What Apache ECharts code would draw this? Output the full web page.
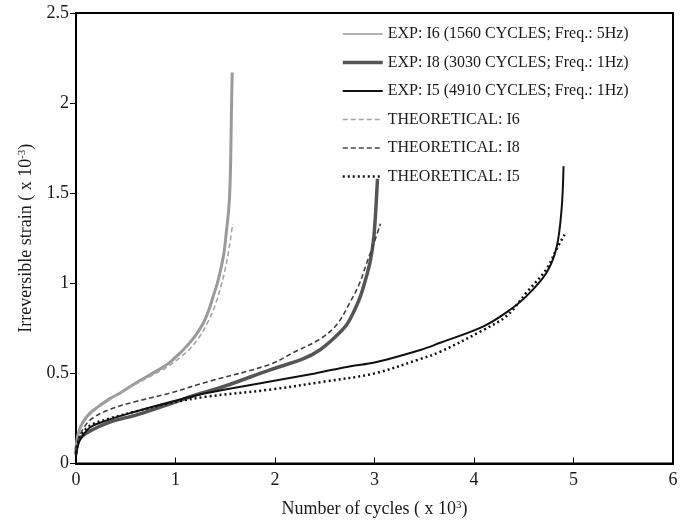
<!DOCTYPE html>
<html>
<head>
<meta charset="utf-8">
<script src="https://cdn.jsdelivr.net/npm/echarts@6/dist/echarts.min.js"></script>
<style>
  html, body { margin: 0; padding: 0; background: #fff; }
  #chart { width: 691px; height: 523px; }
</style>
</head>
<body>
<div id="chart"></div>
<script>
// Irreversible strain (x 10^-3) vs number of cycles (x 10^3), as [cycles, strain] pairs
const expI6 = [[0,0.08],[0.01,0.13],[0.03,0.18],[0.07,0.23],[0.14,0.28],[0.21,0.31],[0.34,0.36],[0.44,0.39],[0.61,0.45],[0.8,0.51],[0.94,0.56],[1.04,0.61],[1.11,0.65],[1.2,0.71],[1.28,0.78],[1.34,0.86],[1.38,0.93],[1.42,1.0],[1.46,1.09],[1.49,1.18],[1.51,1.28],[1.53,1.38],[1.545,1.5],[1.555,1.7],[1.562,1.95],[1.57,2.17]];
const expI8 = [[0,0.05],[0.01,0.1],[0.04,0.14],[0.14,0.18],[0.34,0.23],[0.61,0.27],[0.94,0.33],[1.2,0.38],[1.5,0.43],[1.95,0.52],[2.28,0.58],[2.45,0.63],[2.62,0.71],[2.72,0.77],[2.79,0.84],[2.86,0.93],[2.92,1.04],[2.96,1.13],[2.99,1.24],[3.01,1.38],[3.03,1.58]];
const expI5 = [[0,0.04],[0.01,0.08],[0.04,0.13],[0.14,0.2],[0.34,0.245],[0.61,0.29],[0.94,0.34],[1.3,0.39],[1.95,0.455],[2.4,0.5],[2.76,0.54],[3.0,0.56],[3.46,0.63],[3.66,0.67],[4.09,0.76],[4.33,0.84],[4.53,0.93],[4.73,1.06],[4.83,1.2],[4.88,1.41],[4.9,1.65]];
const theoI6 = [[0,0.1],[0.02,0.16],[0.07,0.22],[0.14,0.27],[0.3,0.34],[0.5,0.41],[0.7,0.47],[0.9,0.53],[1.05,0.59],[1.15,0.64],[1.25,0.71],[1.33,0.79],[1.4,0.88],[1.45,0.97],[1.5,1.08],[1.54,1.2],[1.575,1.33]];
const theoI8 = [[0,0.08],[0.02,0.12],[0.04,0.16],[0.14,0.24],[0.34,0.3],[0.61,0.345],[0.94,0.39],[1.3,0.45],[1.95,0.55],[2.2,0.62],[2.45,0.69],[2.62,0.77],[2.75,0.89],[2.85,1.0],[2.92,1.11],[2.98,1.2],[3.06,1.33]];
const theoI5 = [[0,0.06],[0.02,0.12],[0.04,0.15],[0.14,0.21],[0.34,0.25],[0.61,0.29],[0.94,0.335],[1.3,0.37],[1.95,0.41],[2.5,0.455],[3.0,0.5],[3.46,0.58],[3.66,0.62],[4.09,0.74],[4.33,0.82],[4.53,0.95],[4.73,1.08],[4.83,1.19],[4.92,1.28]];

const seriesNames = [
  'EXP: I6 (1560 CYCLES; Freq.: 5Hz)',
  'EXP: I8 (3030 CYCLES; Freq.: 1Hz)',
  'EXP: I5 (4910 CYCLES; Freq.: 1Hz)',
  'THEORETICAL: I6',
  'THEORETICAL: I8',
  'THEORETICAL: I5'
];
const seriesData = [expI6, expI8, expI5, theoI6, theoI8, theoI5];

// Stroke style per series: colour, width, dash pattern
const strokes = [
  { color: '#9a9a9a', width: 3, type: 'solid' },
  { color: '#555555', width: 3.5, type: 'solid' },
  { color: '#111111', width: 2, type: 'solid' },
  { color: '#a6a6a6', width: 1.6, type: [5, 3] },
  { color: '#404040', width: 1.6, type: [5, 3] },
  { color: '#111111', width: 2.5, type: [2, 3] }
];
// Stroke widths used for the legend samples
const legendWidths = [1.5, 3.5, 2, 1.6, 1.6, 2.5];

const FONT = '"Liberation Serif", "DejaVu Serif", serif';
const TEXT = '#1a1a1a';

const supStyle = { fontFamily: FONT, fontSize: 11, color: TEXT, verticalAlign: 'top', padding: [0, 0, 8, 0] };

const chart = echarts.init(document.getElementById('chart'), null, { renderer: 'canvas' });
chart.setOption({
  animation: false,
  backgroundColor: '#fff',
  grid: { left: 76, right: 18, top: 13, bottom: 59, show: true, borderColor: '#000', borderWidth: 2 },
  legend: {
    orient: 'vertical', left: 336, top: 21,
    itemWidth: 40, itemHeight: 14, itemGap: 12.5,
    data: seriesNames.map((name, i) => ({
      name,
      lineStyle: { width: legendWidths[i], type: strokes[i].type, color: strokes[i].color }
    })),
    itemStyle: { opacity: 0, borderWidth: 0 },
    textStyle: { fontFamily: FONT, fontSize: 16, color: TEXT }
  },
  xAxis: {
    type: 'value', min: 0, max: 6, interval: 1,
    name: 'Number of cycles ( x 10{sup|3})',
    nameLocation: 'middle', nameGap: 36,
    nameTextStyle: { fontFamily: FONT, fontSize: 18, color: TEXT, rich: { sup: supStyle } },
    axisLine: { show: true, lineStyle: { color: '#000', width: 2 } },
    axisTick: { show: true, inside: true, length: 6, lineStyle: { color: '#000', width: 1 } },
    axisLabel: { fontFamily: FONT, fontSize: 18, color: TEXT, margin: 8 },
    splitLine: { show: false }
  },
  yAxis: {
    type: 'value', min: 0, max: 2.5, interval: 0.5,
    name: 'Irreversible strain ( x 10{sup|-3})',
    nameLocation: 'middle', nameGap: 40, nameRotate: 90,
    nameTextStyle: { fontFamily: FONT, fontSize: 18, color: TEXT, rich: { sup: supStyle } },
    axisLine: { show: true, lineStyle: { color: '#000', width: 2 } },
    axisTick: { show: true, inside: false, length: 6, lineStyle: { color: '#000', width: 1 } },
    axisLabel: { fontFamily: FONT, fontSize: 18, color: TEXT, margin: 7 },
    splitLine: { show: false }
  },
  series: seriesNames.map((name, i) => ({
    name, type: 'line', data: seriesData[i],
    showSymbol: false, symbol: 'none',
    smooth: 0.35,
    lineStyle: strokes[i],
    itemStyle: { color: strokes[i].color },
    z: 3
  }))
});
</script>
</body>
</html>
